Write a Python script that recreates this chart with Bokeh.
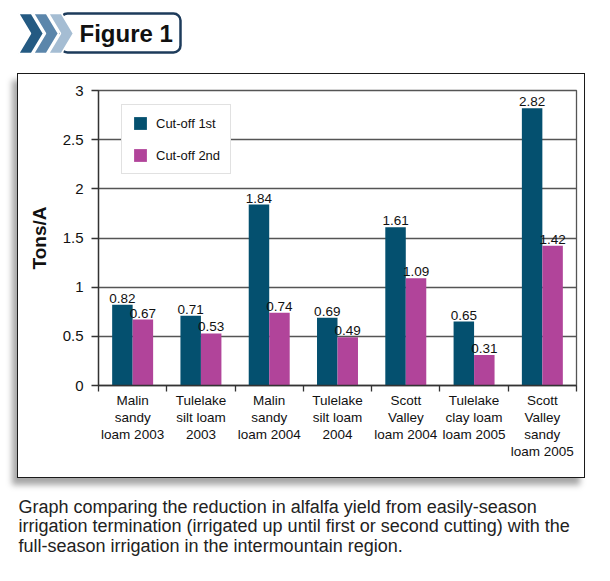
from bokeh.plotting import figure
from bokeh.layouts import column
from bokeh.models import Range1d, FixedTicker, Legend, LegendItem, ColumnDataSource
from bokeh.transform import dodge
from bokeh.core.properties import value
from bokeh.embed import file_html
from bokeh.resources import INLINE

# ---- data -------------------------------------------------------------
sites = [
    "Malin\nsandy\nloam 2003",
    "Tulelake\nsilt loam\n2003",
    "Malin\nsandy\nloam 2004",
    "Tulelake\nsilt loam\n2004",
    "Scott\nValley\nloam 2004",
    "Tulelake\nclay loam\nloam 2005",
    "Scott\nValley\nsandy\nloam 2005",
]
cutoff_1st = [0.82, 0.71, 1.84, 0.69, 1.61, 0.65, 2.82]
cutoff_2nd = [0.67, 0.53, 0.74, 0.49, 1.09, 0.31, 1.42]
series_names = ["Cut-off 1st", "Cut-off 2nd"]
y_ticks = [0, 0.5, 1, 1.5, 2, 2.5, 3]
y_tick_labels = ["0", "0.5", "1", "1.5", "2", "2.5", "3"]
y_title = "Tons/A"
header = "Figure 1"
caption_lines = [
    "Graph comparing the reduction in alfalfa yield from easily-season",
    "irrigation termination (irrigated up until first or second cutting) with the",
    "full-season irrigation in the intermountain region.",
]

# ---- style --------------------------------------------------------------
BLUE = "#04506f"
PINK = "#b1449a"
FONT = "Liberation Sans"
INK = "#111111"
W = 610


def blank(width, height):
    """A bare figure whose data units are pixels (origin top-left)."""
    f = figure(width=width, height=height, output_backend="svg",
               toolbar_location=None, x_axis_location=None, y_axis_location=None,
               x_range=Range1d(0, width), y_range=Range1d(height, 0),
               min_border=0)
    f.frame_align = False
    f.outline_line_color = None
    f.grid.visible = False
    return f


# ---- header badge -------------------------------------------------------
head = blank(W, 73)
head.quad(left=[60], right=[180], top=[13], bottom=[52], border_radius=7,
          fill_color="white", line_color="#1d3b5b", line_width=2.5)
chev_x, chev_y = [], []
for k in range(3):
    dx = 15 * k
    chev_x.append([18 + dx, 31 + dx, 43 + dx, 31 + dx, 18 + dx, 30 + dx])
    chev_y.append([13, 13, 33, 53, 53, 33])
head.patches(xs=chev_x, ys=chev_y, fill_color=["#245a82", "#5b86ab", "#a5bdd3"],
             line_color="white", line_width=1.5)
head.text(x=[79], y=[33], text=[header], text_baseline="middle",
          text_font=value(FONT), text_font_style="bold", text_font_size="24px",
          text_color=INK)

# ---- bar chart ----------------------------------------------------------
centers = [i + 0.5 for i in range(len(sites))]
source = ColumnDataSource(dict(
    x=centers,
    first=cutoff_1st,
    second=cutoff_2nd,
    first_lbl=[f"{v:.2f}" for v in cutoff_1st],
    second_lbl=[f"{v:.2f}" for v in cutoff_2nd],
))

p = figure(width=568, height=405, output_backend="svg", toolbar_location=None,
           x_range=Range1d(0, len(sites)), y_range=Range1d(0, 3),
           min_border_left=80, min_border_right=10,
           min_border_top=16, min_border_bottom=94)
p.frame_align = False
p.styles = {"border": "1.5px solid #1a1a1a",
            "box-shadow": "-5px 7px 6px rgba(0, 0, 0, 0.35)"}
p.margin = (0, 0, 0, 17)
p.background_fill_color = "white"
p.border_fill_color = "white"
p.outline_line_color = "#555555"
p.outline_line_width = 1.3

bw = 0.3
r1 = p.vbar(x=dodge("x", -bw / 2), top="first", width=bw, source=source,
            fill_color=BLUE, line_color=None)
r2 = p.vbar(x=dodge("x", bw / 2), top="second", width=bw, source=source,
            fill_color=PINK, line_color=None)

for fld, off in (("first", -bw / 2), ("second", bw / 2)):
    p.text(x=dodge("x", off), y=fld, text=fld + "_lbl", source=source,
           text_align="center", text_baseline="bottom", y_offset=-2,
           text_font=value(FONT), text_font_size="13.5px", text_color=INK)

p.xgrid.visible = False
p.ygrid.ticker = FixedTicker(ticks=y_ticks)
p.ygrid.grid_line_color = "#555555"
p.ygrid.grid_line_width = 1.3

ya = p.yaxis[0]
ya.ticker = FixedTicker(ticks=y_ticks)
ya.major_label_overrides = {float(t): l for t, l in zip(y_ticks, y_tick_labels)}
ya.major_tick_out = 7
ya.major_tick_in = 0
ya.minor_tick_line_color = None
ya.axis_line_color = "#333333"
ya.axis_line_width = 1.3
ya.major_tick_line_color = "#333333"
ya.major_tick_line_width = 1.3
ya.major_label_standoff = 8
ya.major_label_text_font = FONT
ya.major_label_text_font_size = "15px"
ya.major_label_text_color = INK
ya.axis_label = y_title
ya.axis_label_text_font = FONT
ya.axis_label_text_font_style = "bold"
ya.axis_label_text_font_size = "19px"
ya.axis_label_text_color = INK
ya.axis_label_standoff = 10

xa = p.xaxis[0]
xa.ticker = FixedTicker(ticks=centers, minor_ticks=list(range(len(sites) + 1)))
xa.major_label_overrides = {float(c): s for c, s in zip(centers, sites)}
xa.major_tick_line_color = None
xa.minor_tick_line_color = "#333333"
xa.minor_tick_line_width = 1.3
xa.minor_tick_out = 6
xa.minor_tick_in = 0
xa.axis_line_color = "#333333"
xa.axis_line_width = 1.3
xa.major_label_standoff = 1
xa.major_label_text_font = FONT
xa.major_label_text_font_size = "13.5px"
xa.major_label_text_color = INK
xa.major_label_text_line_height = 1.15

legend = Legend(items=[LegendItem(label=series_names[0], renderers=[r1]),
                       LegendItem(label=series_names[1], renderers=[r2])],
                location=(23, 211), margin=0, padding=10, spacing=16,
                glyph_width=16, glyph_height=16, label_standoff=8,
                label_text_font=FONT, label_text_font_size="13px",
                label_text_color=INK,
                border_line_color="#c4c4c4", border_line_width=1.5,
                background_fill_color="white", background_fill_alpha=1)
p.add_layout(legend)

# ---- caption ------------------------------------------------------------
cap = blank(W, 95)
cap.border_fill_alpha = 0
cap.background_fill_alpha = 0
cap.text(x=[18] * len(caption_lines),
         y=[28 + 19.5 * i for i in range(len(caption_lines))],
         text=caption_lines, text_baseline="middle",
         text_font=value(FONT), text_font_size="18px", text_color="#222222")

page = column(head, p, cap)
open("out.html", "w").write(file_html(page, INLINE))
